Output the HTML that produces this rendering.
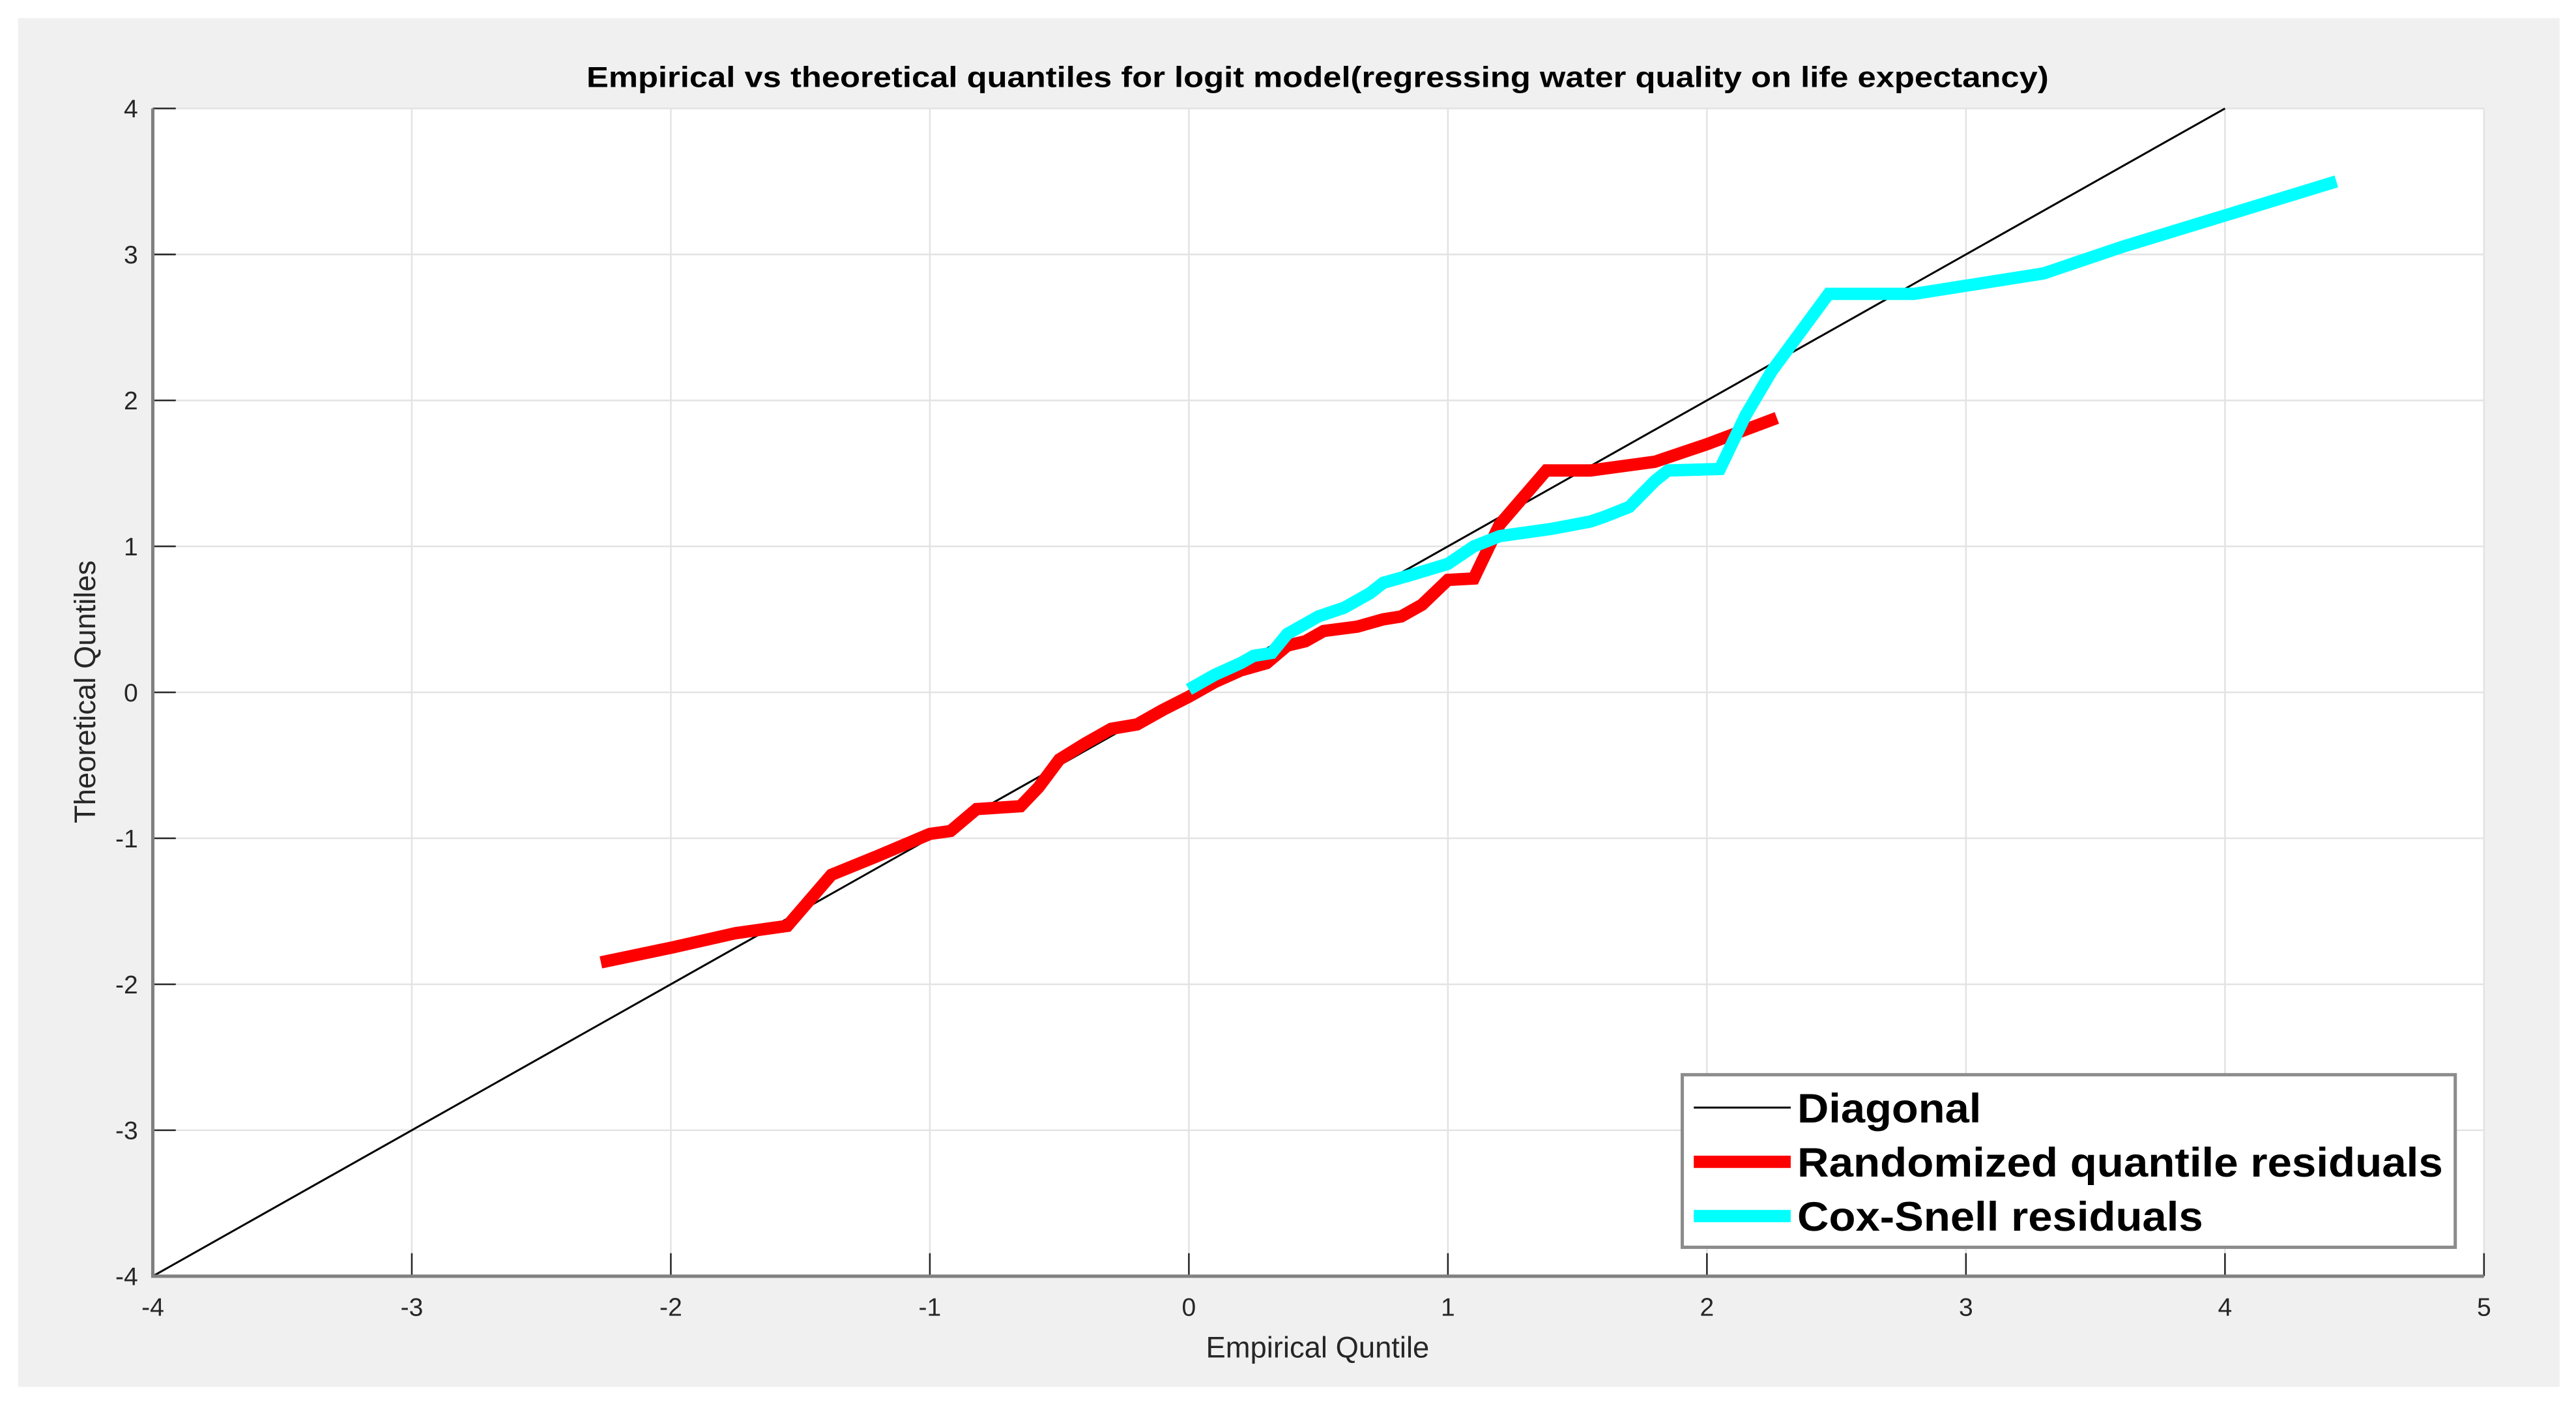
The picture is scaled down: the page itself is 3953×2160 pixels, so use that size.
<!DOCTYPE html>
<html><head><meta charset="utf-8">
<style>
html,body{margin:0;padding:0;background:#fff;}
svg{display:block;}
text{font-family:"Liberation Sans",Arial,sans-serif;}
</style></head>
<body>
<svg id="chart" xmlns="http://www.w3.org/2000/svg" width="3953" height="2160" viewBox="0 0 1568 856.8" preserveAspectRatio="none">
<rect x="11" y="11" width="1547" height="833" fill="#f0f0f0"/>
<rect x="93" y="66" width="1419" height="710.6" fill="#fff"/>
<g id="grid"></g>
<g id="series"></g>
<g id="axes"></g>
<text x="357" y="53" font-size="17.5" font-weight="bold" textLength="890" lengthAdjust="spacingAndGlyphs" fill="#000">Empirical vs theoretical quantiles for logit model(regressing water quality on life expectancy)</text>
<text x="802" y="826" font-size="18" text-anchor="middle" fill="#262626">Empirical Quntile</text>
<text x="58" y="421" font-size="18" text-anchor="middle" fill="#262626" transform="rotate(-90 58 421)">Theoretical Quntiles</text>
<g>
<rect x="1024" y="654" width="470.5" height="105" fill="#fff" stroke="#8c8c8c" stroke-width="2"/>
<line x1="1031" y1="674" x2="1090" y2="674" stroke="#000" stroke-width="1.2"/>
<text x="1094" y="683" font-size="25" font-weight="bold" textLength="112" lengthAdjust="spacingAndGlyphs" fill="#000">Diagonal</text>
<line x1="1031" y1="707" x2="1090" y2="707" stroke="#ff0000" stroke-width="7.5"/>
<text x="1094" y="716" font-size="25" font-weight="bold" textLength="393" lengthAdjust="spacingAndGlyphs" fill="#000">Randomized quantile residuals</text>
<line x1="1031" y1="740" x2="1090" y2="740" stroke="#00ffff" stroke-width="7.5"/>
<text x="1094" y="749" font-size="25" font-weight="bold" textLength="247" lengthAdjust="spacingAndGlyphs" fill="#000">Cox-Snell residuals</text>
</g>
</svg>
<script>
const xTicks = [-4,-3,-2,-1,0,1,2,3,4,5];
const yTicks = [-4,-3,-2,-1,0,1,2,3,4];
const diagX = [-4, 4];
const diagY = [-4, 4];
const redX = [-2.27,-2.0,-1.75,-1.55,-1.38,-1.2,-1.0,-0.92,-0.82,-0.65,-0.58,-0.5,-0.4,-0.3,-0.2,-0.1,0,0.1,0.2,0.3,0.38,0.45,0.52,0.65,0.75,0.82,0.9,1.0,1.1,1.2,1.38,1.55,1.8,2.0,2.27];
const redY = [-1.85,-1.75,-1.65,-1.6,-1.25,-1.12,-0.97,-0.95,-0.8,-0.78,-0.65,-0.46,-0.35,-0.25,-0.22,-0.12,-0.03,0.07,0.15,0.2,0.32,0.35,0.42,0.45,0.5,0.52,0.6,0.77,0.78,1.15,1.52,1.52,1.58,1.7,1.88];
const cyanX = [0,0.1,0.2,0.25,0.32,0.38,0.45,0.5,0.6,0.7,0.75,0.85,1.0,1.1,1.2,1.4,1.55,1.6,1.7,1.8,1.85,2.05,2.15,2.25,2.47,2.8,3.3,3.6,4.43];
const cyanY = [0.02,0.12,0.2,0.25,0.27,0.4,0.47,0.52,0.58,0.68,0.75,0.8,0.88,1.0,1.07,1.12,1.17,1.2,1.27,1.45,1.52,1.53,1.9,2.2,2.73,2.73,2.87,3.05,3.5];

const L=93,R=1512,T=66,B=776.6;
function sx(v){return L+(v+4)/9*(R-L);}
function sy(v){return B-(v+4)/8*(B-T);}
const NS='http://www.w3.org/2000/svg';
function mk(tag,attrs,parent){const e=document.createElementNS(NS,tag);for(const k in attrs)e.setAttribute(k,attrs[k]);parent.appendChild(e);return e;}
const grid=document.getElementById('grid'),axes=document.getElementById('axes'),series=document.getElementById('series');
xTicks.forEach(t=>{
  const g=mk('line',{x1:sx(t),x2:sx(t),y1:T,y2:B,stroke:'#e3e3e3','stroke-width':1},grid);
  
  
  const tk=mk('line',{x1:sx(t),x2:sx(t),y1:B,y2:B-14,stroke:'#262626','stroke-width':1},axes);
  
  
  const tx=mk('text',{x:sx(t),y:B+24,'font-size':15.5,'text-anchor':'middle',fill:'#262626'},axes);
  tx.textContent=t;
  
  
});
yTicks.forEach(t=>{
  const g=mk('line',{x1:L,x2:R,y1:sy(t),y2:sy(t),stroke:'#e3e3e3','stroke-width':1},grid);
  
  
  const tk=mk('line',{x1:L,x2:L+14,y1:sy(t),y2:sy(t),stroke:'#262626','stroke-width':1},axes);
  
  
  const tx=mk('text',{x:L-9,y:sy(t)+5.5,'font-size':15.5,'text-anchor':'end',fill:'#262626'},axes);
  tx.textContent=t;
  
  
});
const ax=mk('path',{d:`M${L},${T} L${L},${B} L${R},${B}`,fill:'none',stroke:'#808080','stroke-width':2},axes);


function pts(xs,ys){return xs.map((x,i)=>sx(x).toFixed(2)+','+sy(ys[i]).toFixed(2)).join(' ');}
const d=mk('polyline',{points:pts(diagX,diagY),fill:'none',stroke:'#000','stroke-width':1.2},series);


const r=mk('polyline',{points:pts(redX,redY),fill:'none',stroke:'#ff0000','stroke-width':7.5,'stroke-linejoin':'miter'},series);


const c=mk('polyline',{points:pts(cyanX,cyanY),fill:'none',stroke:'#00ffff','stroke-width':7.5,'stroke-linejoin':'miter'},series);


</script>
</body></html>
